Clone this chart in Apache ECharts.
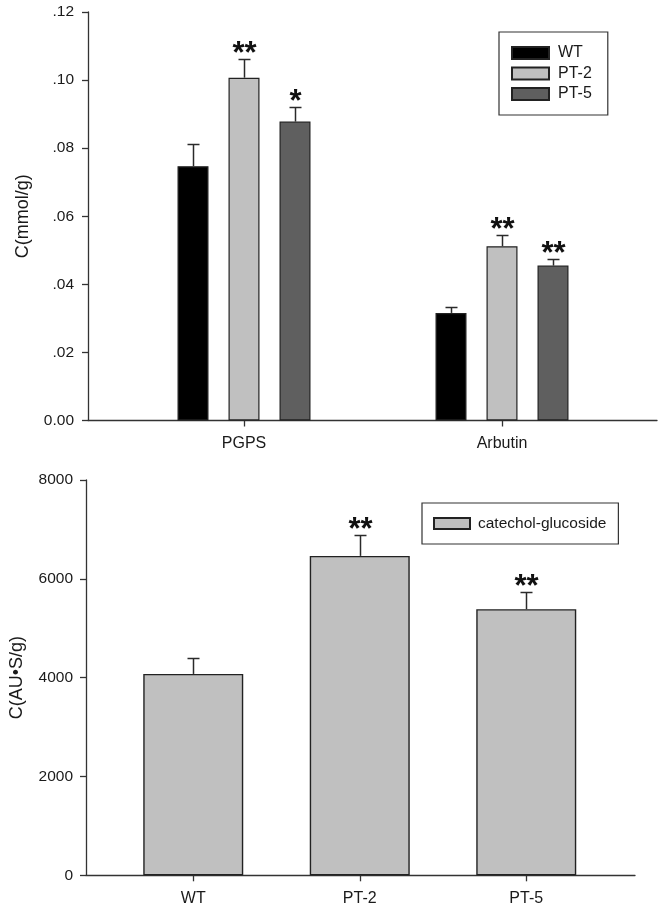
<!DOCTYPE html>
<html>
<head>
<meta charset="utf-8">
<script src="https://cdn.jsdelivr.net/npm/echarts@6/dist/echarts.min.js"></script>
<style>
html,body{margin:0;padding:0;background:#fff;}
#chart{width:664px;height:916px;}
</style>
</head>
<body>
<div id="chart"></div>
<script>
// ---- Top panel data ----
const topCategories = ['PGPS', 'Arbutin'];
const topSeriesNames = ['WT', 'PT-2', 'PT-5'];
const wtMean = [0.0747, 0.0316];
const wtErr = [0.0064, 0.0018];
const pt2Mean = [0.1007, 0.0512];
const pt2Err = [0.0054, 0.0032];
const pt5Mean = [0.0878, 0.0455];
const pt5Err = [0.0043, 0.0019];
const wtSig = ['', ''];
const pt2Sig = ['**', '**'];
const pt5Sig = ['*', '**'];
const topYTickLabels = ['0.00', '.02', '.04', '.06', '.08', '.10', '.12'];
const topYName = 'C(mmol/g)';

// ---- Bottom panel data ----
const bottomCategories = ['WT', 'PT-2', 'PT-5'];
const bottomSeriesName = 'catechol-glucoside';
const catecholMean = [4075, 6464, 5385];
const catecholErr = [318, 425, 356];
const catecholSig = ['', '**', '**'];
const bottomYTickLabels = ['0', '2000', '4000', '6000', '8000'];
const bottomYName = 'C(AU\u2022S/g)';

// ---- styles ----
const FONT = "'Liberation Sans', Arial, sans-serif";
const TXT = '#1a1a1a';
const LINE = '#333';
const topColors = ['#000000', '#c0c0c0', '#5f5f5f'];
const TOP_BAR_W = 31, TOP_GAP = 20;
const BOT_BAR_W = 100;
const CAP = 12;

function errSeries(xIdx, yIdx, means, errs, sigs, offset) {
  return {
    type: 'custom',
    xAxisIndex: xIdx, yAxisIndex: yIdx,
    clip: false, silent: true, z: 5,
    data: means.map((m, i) => [i, m, errs[i]]),
    renderItem: function (params, api) {
      const xi = api.value(0), m = api.value(1), e = api.value(2);
      const base = api.coord([xi, m]);
      const top = api.coord([xi, m + e]);
      const x = Math.round(base[0] + offset) + 0.5;
      const yb = base[1], yt = Math.round(top[1]) + 0.5;
      const st = { stroke: '#2a2a2a', lineWidth: 1.5 };
      const children = [
        { type: 'line', shape: { x1: x, y1: yb, x2: x, y2: yt }, style: st },
        { type: 'line', shape: { x1: x - CAP / 2, y1: yt, x2: x + CAP / 2, y2: yt }, style: st }
      ];
      const s = sigs[params.dataIndex];
      if (s) {
        children.push({
          type: 'text', x: x, y: yt - 5,
          style: { text: s, fill: '#111', font: 'bold 31px ' + FONT, align: 'center', verticalAlign: 'middle' }
        });
      }
      return { type: 'group', children: children };
    }
  };
}

const chart = echarts.init(document.getElementById('chart'), null, { renderer: 'canvas' });
const step = TOP_BAR_W + TOP_GAP;

const option = {
  backgroundColor: '#fff',
  animation: false,
  textStyle: { fontFamily: FONT },
  grid: [
    { left: 88, right: 7, top: 12, height: 408.5 },
    { left: 115, right: 33, top: 12, height: 408.5 },
    { left: 85, right: 29, top: 480, height: 395.3 },
    { left: 110, right: 54.5, top: 480, height: 395.3 }
  ],
  xAxis: [
    { gridIndex: 0, type: 'value', min: 0, max: 1, axisLine: { show: true, onZero: false, lineStyle: { color: LINE, width: 1.3 } },
      axisTick: { show: false }, axisLabel: { show: false }, splitLine: { show: false } },
    { gridIndex: 1, type: 'category', data: topCategories, axisLine: { show: false },
      axisTick: { show: true, alignWithLabel: true, length: 6, lineStyle: { color: LINE, width: 1.3 } },
      axisLabel: { color: TXT, fontSize: 16, margin: 15, fontFamily: FONT }, splitLine: { show: false } },
    { gridIndex: 2, type: 'value', min: 0, max: 1, axisLine: { show: true, onZero: false, lineStyle: { color: LINE, width: 1.3 } },
      axisTick: { show: false }, axisLabel: { show: false }, splitLine: { show: false } },
    { gridIndex: 3, type: 'category', data: bottomCategories, axisLine: { show: false },
      axisTick: { show: true, alignWithLabel: true, length: 6, lineStyle: { color: LINE, width: 1.3 } },
      axisLabel: { color: TXT, fontSize: 16, margin: 15, fontFamily: FONT }, splitLine: { show: false } }
  ],
  yAxis: [
    { gridIndex: 0, type: 'value', min: 0, max: 0.12, interval: 0.02,
      name: topYName, nameLocation: 'middle', nameGap: 56, nameRotate: 90,
      nameTextStyle: { color: TXT, fontSize: 18, fontFamily: FONT },
      axisLine: { show: true, lineStyle: { color: LINE, width: 1.3 } },
      axisTick: { show: true, inside: false, length: 6, lineStyle: { color: LINE, width: 1.3 } },
      axisLabel: { color: TXT, fontSize: 15.5, margin: 14, fontFamily: FONT,
        formatter: v => topYTickLabels[Math.round(v / 0.02)] },
      splitLine: { show: false } },
    { gridIndex: 1, type: 'value', min: 0, max: 0.12, show: false, splitLine: { show: false } },
    { gridIndex: 2, type: 'value', min: 0, max: 8000, interval: 2000,
      name: bottomYName, nameLocation: 'middle', nameGap: 60, nameRotate: 90,
      nameTextStyle: { color: TXT, fontSize: 18, fontFamily: FONT },
      axisLine: { show: true, lineStyle: { color: LINE, width: 1.3 } },
      axisTick: { show: true, inside: false, length: 6, lineStyle: { color: LINE, width: 1.3 } },
      axisLabel: { color: TXT, fontSize: 15.5, margin: 13, fontFamily: FONT,
        formatter: v => bottomYTickLabels[Math.round(v / 2000)] },
      splitLine: { show: false } },
    { gridIndex: 3, type: 'value', min: 0, max: 8000, show: false, splitLine: { show: false } }
  ],
  legend: [
    { data: topSeriesNames, orient: 'vertical', left: 499, top: 32, icon: 'rect',
      itemWidth: 37, itemHeight: 12, itemGap: 4.5, padding: [13, 16, 13, 12],
      borderColor: '#333', borderWidth: 1.2,
      textStyle: { color: TXT, fontSize: 16, fontFamily: FONT, padding: [0, 0, 0, 4] } },
    { data: [bottomSeriesName], orient: 'vertical', left: 422, top: 503, icon: 'rect',
      itemWidth: 36, itemHeight: 11, padding: [12.5, 12, 12.5, 11],
      borderColor: '#333', borderWidth: 1.2,
      textStyle: { color: TXT, fontSize: 15.5, fontFamily: FONT, padding: [0, 0, 0, 3] } }
  ],
  series: [
    { name: topSeriesNames[0], type: 'bar', xAxisIndex: 1, yAxisIndex: 1, data: wtMean,
      barWidth: TOP_BAR_W, barGap: (TOP_GAP / TOP_BAR_W * 100) + '%',
      itemStyle: { color: topColors[0], borderColor: '#222', borderWidth: 1.2 } },
    { name: topSeriesNames[1], type: 'bar', xAxisIndex: 1, yAxisIndex: 1, data: pt2Mean,
      barWidth: TOP_BAR_W, barGap: (TOP_GAP / TOP_BAR_W * 100) + '%',
      itemStyle: { color: topColors[1], borderColor: '#222', borderWidth: 1.2 } },
    { name: topSeriesNames[2], type: 'bar', xAxisIndex: 1, yAxisIndex: 1, data: pt5Mean,
      barWidth: TOP_BAR_W, barGap: (TOP_GAP / TOP_BAR_W * 100) + '%',
      itemStyle: { color: topColors[2], borderColor: '#222', borderWidth: 1.2 } },
    errSeries(1, 1, wtMean, wtErr, wtSig, -step),
    errSeries(1, 1, pt2Mean, pt2Err, pt2Sig, 0),
    errSeries(1, 1, pt5Mean, pt5Err, pt5Sig, step),
    { name: bottomSeriesName, type: 'bar', xAxisIndex: 3, yAxisIndex: 3, data: catecholMean,
      barWidth: BOT_BAR_W,
      itemStyle: { color: '#c0c0c0', borderColor: '#222', borderWidth: 1.4 } },
    errSeries(3, 3, catecholMean, catecholErr, catecholSig, 0)
  ]
};
chart.setOption(option);
</script>
</body>
</html>
